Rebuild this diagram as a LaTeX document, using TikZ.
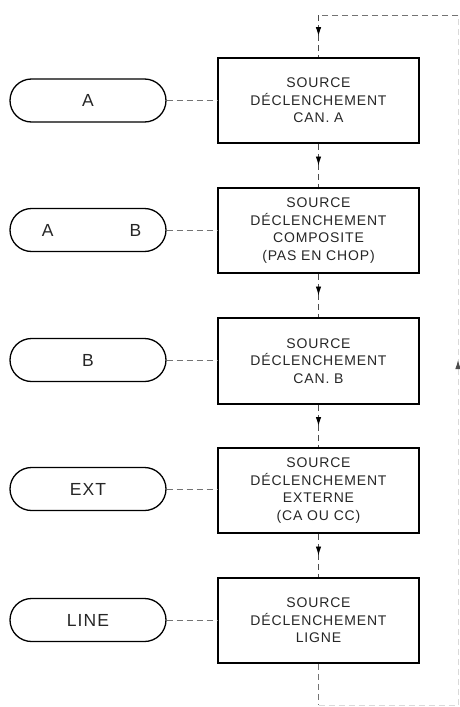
\documentclass[tikz,border=0pt]{standalone}
\usepackage{fontspec}
\setmainfont{Liberation Sans}
\newfontfamily\boxfont[LetterSpace=6]{Liberation Sans}
\newfontfamily\pillfont[LetterSpace=6]{Liberation Sans}
\usetikzlibrary{arrows.meta,decorations.markings,calc}
\begin{document}
\begin{tikzpicture}[x=1pt,y=-1pt,
 stepbox/.style={draw,line width=1.6pt,minimum width=201pt,minimum height=85pt,inner sep=0pt,align=center,text=black!85,font=\boxfont\fontsize{14}{17.5}\selectfont},
 pill/.style={draw,line width=1.3pt,minimum width=156pt,minimum height=43pt,rounded corners=21.5pt,inner sep=0pt,text=black!85,font=\pillfont\fontsize{17.5}{20}\selectfont},
 link/.style={dash pattern=on 6pt off 4pt,black!55,line width=0.9pt},
 faint/.style={link,black!15},
 flow/.style={link,black!70,postaction={decorate},decoration={markings,mark=at position 0.5 with {\arrow[black]{Latex[length=9pt,width=5.5pt]}}}}]
\useasboundingbox (0,0) rectangle (460,707);
% boxes
\node[stepbox] (b1) at (318.5,100.5) {SOURCE\\DÉCLENCHEMENT\\CAN. A};
\node[stepbox] (b2) at (318.5,230.5) {SOURCE\\DÉCLENCHEMENT\\COMPOSITE\\(PAS EN CHOP)};
\node[stepbox,minimum height=86pt] (b3) at (318.5,361) {SOURCE\\DÉCLENCHEMENT\\CAN. B};
\node[stepbox] (b4) at (318.5,490.5) {SOURCE\\DÉCLENCHEMENT\\EXTERNE\\(CA OU CC)};
\node[stepbox] (b5) at (318.5,620.5) {SOURCE\\DÉCLENCHEMENT\\LIGNE};
% pills
\node[pill] (p1) at (88,100.5) {A};
\node[pill] (p2) at (88,230) {\hspace*{7pt}A\hspace{76pt}B};
\node[pill] (p3) at (88,360) {B};
\node[pill] (p4) at (88,489) {EXT};
\node[pill] (p5) at (88,620) {LINE};
% pill to box links
\draw[link] (p1.east) -- (b1.west |- p1.east);
\draw[link] (p2.east) -- (b2.west |- p2.east);
\draw[link] (p3.east) -- (b3.west |- p3.east);
\draw[link] (p4.east) -- (b4.west |- p4.east);
\draw[link] (p5.east) -- (b5.west |- p5.east);
% flow
\draw[flow] (b1.south) -- (b2.north);
\draw[flow] (b2.south) -- (b3.north);
\draw[flow] (b3.south) -- (b4.north);
\draw[flow] (b4.south) -- (b5.north);
% return loop
\coordinate (tl) at (318.5,15);
\coordinate (tr) at (458,15);
\coordinate (br) at (458,705);
\coordinate (bl) at (318.5,705);
\draw[link] (b5.south) -- (bl);
\draw[faint] (bl) -- (br);
\draw[faint,postaction={decorate},decoration={markings,mark=at position 0.5 with {\arrow[black!70]{Latex[length=9pt,width=5.5pt]}}}] (br) -- (tr);
\draw[link] (tr) -- (tl);
\draw[flow] (tl) -- (b1.north);
\end{tikzpicture}
\end{document}
